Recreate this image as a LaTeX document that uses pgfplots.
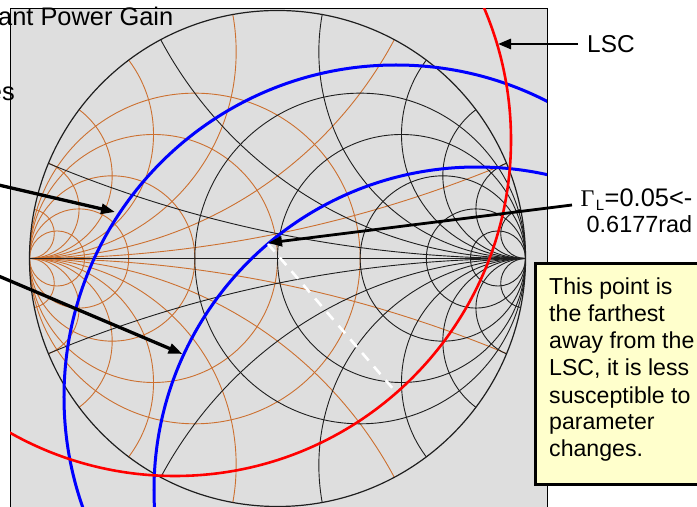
\documentclass[border=0pt]{standalone}
\usepackage{pgfplots}
\pgfplotsset{compat=1.18}
\usetikzlibrary{arrows.meta}
\usepackage{fontspec}
\setmainfont{Liberation Sans}
\newfontfamily\seriffont{Liberation Serif}
\definecolor{zgrid}{RGB}{30,30,30}
\definecolor{ygrid}{RGB}{204,112,48}
\definecolor{bg}{RGB}{222,222,222}
\definecolor{note}{RGB}{255,255,204}
\begin{document}
\begin{tikzpicture}[x=1bp,y=1bp]
\useasboundingbox (0,0) rectangle (697,507);
\clip (0,0) rectangle (697,507);
\begin{axis}[at={(0,0)},anchor=south west,width=697bp,height=507bp,scale only axis,
  xmin=-1.11895,xmax=1.69153,ymin=-1.00202,ymax=1.04234,
  axis lines=none,ticks=none,enlargelimits=false,clip=true]
% background square
\draw[fill=bg,draw=black,line width=1bp] (axis cs:-1.0786,1.006) rectangle (axis cs:1.0867,-1.1593);
% Smith chart grid (ZY)
\begin{scope}
\clip (axis cs:0,0) circle[radius=1];
\begin{scope}[ygrid,line width=0.9bp]
\draw (axis cs:-0.33333,0) circle[radius=0.66667];
\draw (axis cs:-0.5,0) circle[radius=0.5];
\draw (axis cs:-0.66667,0) circle[radius=0.33333];
\draw (axis cs:-0.8,0) circle[radius=0.2];
\draw (axis cs:-0.88889,0) circle[radius=0.11111];
\draw (axis cs:-1,5) circle[radius=5];
\draw (axis cs:-1,-5) circle[radius=5];
\draw (axis cs:-1,1.66667) circle[radius=1.66667];
\draw (axis cs:-1,-1.66667) circle[radius=1.66667];
\draw (axis cs:-1,0.83333) circle[radius=0.83333];
\draw (axis cs:-1,-0.83333) circle[radius=0.83333];
\draw (axis cs:-1,0.5) circle[radius=0.5];
\draw (axis cs:-1,-0.5) circle[radius=0.5];
\draw (axis cs:-1,0.33333) circle[radius=0.33333];
\draw (axis cs:-1,-0.33333) circle[radius=0.33333];
\draw (axis cs:-1,0.2) circle[radius=0.2];
\draw (axis cs:-1,-0.2) circle[radius=0.2];
\draw (axis cs:-1,0.1) circle[radius=0.1];
\draw (axis cs:-1,-0.1) circle[radius=0.1];
\end{scope}
\begin{scope}[zgrid,line width=0.9bp]
\draw (axis cs:-1,0) -- (axis cs:1,0);
\draw (axis cs:0.33333,0) circle[radius=0.66667];
\draw (axis cs:0.5,0) circle[radius=0.5];
\draw (axis cs:0.66667,0) circle[radius=0.33333];
\draw (axis cs:0.8,0) circle[radius=0.2];
\draw (axis cs:0.88889,0) circle[radius=0.11111];
\draw (axis cs:1,5) circle[radius=5];
\draw (axis cs:1,-5) circle[radius=5];
\draw (axis cs:1,1.66667) circle[radius=1.66667];
\draw (axis cs:1,-1.66667) circle[radius=1.66667];
\draw (axis cs:1,0.83333) circle[radius=0.83333];
\draw (axis cs:1,-0.83333) circle[radius=0.83333];
\draw (axis cs:1,0.5) circle[radius=0.5];
\draw (axis cs:1,-0.5) circle[radius=0.5];
\draw (axis cs:1,0.33333) circle[radius=0.33333];
\draw (axis cs:1,-0.33333) circle[radius=0.33333];
\draw (axis cs:1,0.2) circle[radius=0.2];
\draw (axis cs:1,-0.2) circle[radius=0.2];
\draw (axis cs:1,0.1) circle[radius=0.1];
\draw (axis cs:1,-0.1) circle[radius=0.1];
\end{scope}
\end{scope}
\draw[zgrid,line width=1.2bp] (axis cs:0,0) circle[radius=1];
% gain circles and stability circle (clipped to the chart square)
\begin{scope}
\clip (axis cs:-1.0786,1.006) rectangle (axis cs:1.0867,-1.1593);
\draw[blue,line width=3bp] (axis cs:0.4778,-0.5585) circle[radius=1.3387];
\draw[blue,line width=3bp] (axis cs:0.8044,-0.9335) circle[radius=1.3024];
\draw[red,line width=2.6bp] (axis cs:-0.4133,0.4778) circle[radius=1.3548];
% dashed line from Gamma_L to the farthest point of the LSC
\draw[white,line width=2.6bp,dash pattern=on 10bp off 8bp] (axis cs:-0.0383,0.0585) -- (axis cs:0.4700,-0.5300);
\end{scope}
% arrows
\draw[line width=2.7bp,-{Triangle[length=13bp,width=10bp]}] (axis cs:1.2117,0.8649) -- (axis cs:0.8891,0.8649);
\draw[line width=2.8bp,-{Triangle[length=14bp,width=10bp]}] (axis cs:1.1875,0.2157) -- (axis cs:-0.0383,0.0625);
\draw[line width=3.3bp,-{Triangle[length=14bp,width=10bp]}] (axis cs:-1.1593,0.3044) -- (axis cs:-0.6552,0.1875);
\draw[line width=3.3bp,-{Triangle[length=14bp,width=10bp]}] (axis cs:-1.1593,-0.056) -- (axis cs:-0.3830,-0.3851);
% texts
\node[anchor=base east,inner sep=0pt,font=\fontsize{25.5}{29}\selectfont] at (axis cs:-0.4194,0.9375) {Constant Power Gain};
\node[anchor=base east,inner sep=0pt,font=\fontsize{25.5}{29}\selectfont] at (axis cs:-1.0585,0.6351) {Circles};
\node[anchor=base west,inner sep=0pt,font=\fontsize{24.5}{29}\selectfont] at (axis cs:1.248,0.8286) {LSC};
\node[anchor=base west,inner sep=0pt,font=\fontsize{24}{27}\selectfont\seriffont] at (axis cs:1.2218,0.2077) {Γ};
\node[anchor=base west,inner sep=0pt,font=\fontsize{15}{18}\selectfont] at (axis cs:1.2830,0.1920) {L};
\node[anchor=base east,inner sep=0pt,font=\fontsize{25.5}{27}\selectfont] at (axis cs:1.6734,0.2077) {=0.05<-};
\node[anchor=base west,inner sep=0pt,font=\fontsize{23.5}{27}\selectfont] at (axis cs:1.2460,0.1028) {0.6177rad};
% note box
\draw[fill=note,draw=black,line width=3bp] (axis cs:1.0383,-0.0222) rectangle (axis cs:1.7500,-0.9133);
\node[anchor=base west,inner sep=0pt,font=\fontsize{23.2}{27}\selectfont] at (axis cs:1.0948,-0.1472) {This point is};
\node[anchor=base west,inner sep=0pt,font=\fontsize{23.2}{27}\selectfont] at (axis cs:1.0948,-0.2560) {the farthest};
\node[anchor=base west,inner sep=0pt,font=\fontsize{23.2}{27}\selectfont] at (axis cs:1.0948,-0.3649) {away from the};
\node[anchor=base west,inner sep=0pt,font=\fontsize{23.2}{27}\selectfont] at (axis cs:1.0948,-0.4738) {LSC, it is less};
\node[anchor=base west,inner sep=0pt,font=\fontsize{23.2}{27}\selectfont] at (axis cs:1.0948,-0.5827) {susceptible to};
\node[anchor=base west,inner sep=0pt,font=\fontsize{23.2}{27}\selectfont] at (axis cs:1.0948,-0.6915) {parameter};
\node[anchor=base west,inner sep=0pt,font=\fontsize{23.2}{27}\selectfont] at (axis cs:1.0948,-0.8004) {changes.};
\end{axis}
\end{tikzpicture}
\end{document}
